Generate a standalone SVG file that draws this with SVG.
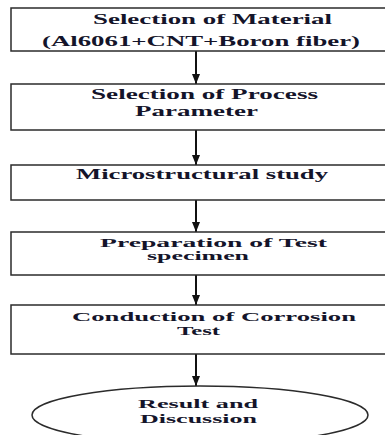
<svg xmlns="http://www.w3.org/2000/svg" width="385" height="435" viewBox="0 0 385 435">
<style>
.box{fill:#fff;stroke:#2b2b2b;stroke-width:1.5}
.t{font-family:"Liberation Serif","DejaVu Serif","Times New Roman",serif;font-weight:bold;fill:#14142a;font-size:14px}
.s{font-size:12px}
.c{stroke:#111;stroke-width:2;fill:none}
</style>
<defs>
<marker id="ah" viewBox="0 0 10 8" refX="10" refY="4" markerWidth="10" markerHeight="8" markerUnits="userSpaceOnUse" orient="auto">
<path d="M0,0 L10,4 L0,8 z" fill="#111"/>
</marker>
</defs>
<rect width="385" height="435" fill="#fff"/>
<g id="connectors">
<line class="c" x1="196" y1="51" x2="196" y2="84" marker-end="url(#ah)"/>
<line class="c" x1="196" y1="130" x2="196" y2="165" marker-end="url(#ah)"/>
<line class="c" x1="196" y1="200" x2="196" y2="232" marker-end="url(#ah)"/>
<line class="c" x1="196" y1="275" x2="196" y2="305" marker-end="url(#ah)"/>
<line class="c" x1="196" y1="354" x2="196" y2="386" marker-end="url(#ah)"/>
</g>
<g id="n1">
<rect class="box" x="11" y="8" width="400" height="43"/>
<text class="t" x="93" y="24" textLength="239" lengthAdjust="spacingAndGlyphs" font-family="Liberation Serif, serif">Selection of Material</text>
<text class="t" x="42" y="46" textLength="318" lengthAdjust="spacingAndGlyphs" font-family="Liberation Serif, serif">(Al6061+CNT+Boron fiber)</text>
</g>
<g id="n2">
<rect class="box" x="11" y="84" width="400" height="46"/>
<text class="t" x="91" y="99" textLength="227" lengthAdjust="spacingAndGlyphs" font-family="Liberation Serif, serif">Selection of Process</text>
<text class="t" x="135" y="116" textLength="123" lengthAdjust="spacingAndGlyphs" font-family="Liberation Serif, serif">Parameter</text>
</g>
<g id="n3">
<rect class="box" x="11" y="165" width="400" height="35"/>
<text class="t" x="76" y="179" textLength="252" lengthAdjust="spacingAndGlyphs" font-family="Liberation Serif, serif">Microstructural study</text>
</g>
<g id="n4">
<rect class="box" x="11" y="232" width="400" height="43"/>
<text class="t s" x="100" y="247" textLength="227" lengthAdjust="spacingAndGlyphs" font-family="Liberation Serif, serif">Preparation of Test</text>
<text class="t s" x="147" y="260" textLength="102" lengthAdjust="spacingAndGlyphs" font-family="Liberation Serif, serif">specimen</text>
</g>
<g id="n5">
<rect class="box" x="11" y="305" width="400" height="49"/>
<text class="t s" x="72" y="321" textLength="284" lengthAdjust="spacingAndGlyphs" font-family="Liberation Serif, serif">Conduction of Corrosion</text>
<text class="t s" x="177" y="335" textLength="43" lengthAdjust="spacingAndGlyphs" font-family="Liberation Serif, serif">Test</text>
</g>
<g id="n6">
<ellipse class="box" cx="200" cy="415" rx="168" ry="29"/>
<text class="t s" x="138" y="408" textLength="120" lengthAdjust="spacingAndGlyphs" font-family="Liberation Serif, serif">Result and</text>
<text class="t s" x="140" y="423" textLength="117" lengthAdjust="spacingAndGlyphs" font-family="Liberation Serif, serif">Discussion</text>
</g>
</svg>
